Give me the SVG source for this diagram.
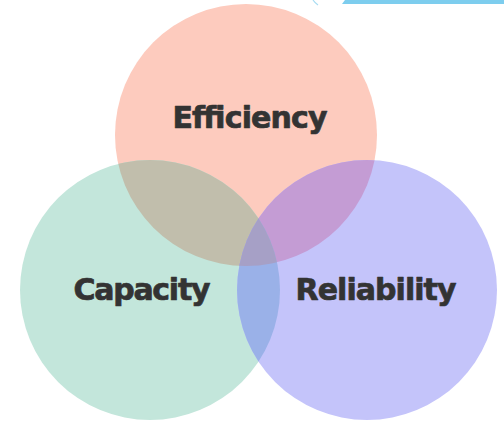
<svg xmlns="http://www.w3.org/2000/svg" width="504" height="421" viewBox="0 0 504 421">
<style>
.lbl{font-family:"DejaVu Sans","Liberation Sans",sans-serif;font-weight:bold;font-size:30px;fill:#333333;stroke:#333333;stroke-width:0.7;stroke-linejoin:round;text-anchor:middle}
</style>
<defs>
<clipPath id="cTop"><circle cx="246" cy="135" r="131"/></clipPath>
<clipPath id="cLeft"><circle cx="150" cy="290" r="130"/></clipPath>
<clipPath id="cRight"><circle cx="367" cy="290" r="130"/></clipPath>
</defs>
<rect width="504" height="421" fill="#ffffff"/>
<g id="corner">
<path d="M345,0 L504,0 L504,4 L342,4 Z" fill="#7dcdee"/>
<path d="M313,0 Q315,3 318,5" fill="none" stroke="#a8dcf2" stroke-width="1.2"/>
</g>
<g id="efficiency">
<circle cx="246" cy="135" r="131" fill="#fdcbbe"/>
</g>
<g id="capacity">
<circle cx="150" cy="290" r="130" fill="#c3e6db"/>
</g>
<g id="reliability">
<circle cx="367" cy="290" r="130" fill="#c4c4fa"/>
</g>
<g id="overlaps">
<g clip-path="url(#cTop)"><circle cx="150" cy="290" r="130" fill="#c1beac"/><circle cx="367" cy="290" r="130" fill="#c49cd4"/></g>
<g clip-path="url(#cLeft)"><circle cx="367" cy="290" r="130" fill="#9ab1e8"/></g>
<g clip-path="url(#cLeft)"><g clip-path="url(#cTop)"><circle cx="367" cy="290" r="130" fill="#a6a0c6"/></g></g>
</g>
<g id="labels">
<text class="lbl" x="250" y="128" textLength="155" lengthAdjust="spacing">Efficiency</text>
<text class="lbl" x="142" y="300" textLength="137" lengthAdjust="spacing">Capacity</text>
<text class="lbl" x="376" y="300" textLength="161" lengthAdjust="spacing">Reliability</text>
</g>
</svg>
